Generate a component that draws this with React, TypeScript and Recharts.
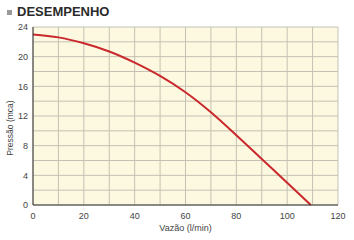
import { LineChart, Line, XAxis, YAxis, CartesianGrid } from "recharts";

const flow = [0, 10, 20, 30, 40, 50, 60, 70, 80, 90, 100, 109.3];
const pressure = [23, 22.6, 21.8, 20.7, 19.2, 17.4, 15.2, 12.5, 9.4, 6.2, 3.0, 0];
const xTicks = [0, 10, 20, 30, 40, 50, 60, 70, 80, 90, 100, 110, 120];
const yTicks = [0, 2, 4, 6, 8, 10, 12, 14, 16, 18, 20, 22, 24];

const data = flow.map((f, i) => ({ flow: f, pressure: pressure[i] }));

const font = "'Liberation Sans', Arial, sans-serif";

export default function App() {
  return (
    <div style={{ position: "absolute", left: 0, top: 0, width: 354, height: 240, background: "#fff", fontFamily: font }}>
      <div style={{ position: "absolute", left: 7, top: 10, width: 5, height: 5, background: "#9a9a9a" }} />
      <div style={{ position: "absolute", left: 17, top: 4, fontSize: 13, fontWeight: 700, color: "#2b2b2b", lineHeight: "16px" }}>
        DESEMPENHO
      </div>
      <div
        style={{
          position: "absolute",
          left: 10,
          top: 128,
          transform: "translate(-50%, -50%) rotate(-90deg)",
          fontSize: 8.5,
          color: "#444",
          whiteSpace: "nowrap",
        }}
      >
        Pressão (mca)
      </div>
      <LineChart width={354} height={240} data={data} margin={{ top: 27, right: 16, bottom: 15, left: 8 }}>
        <CartesianGrid stroke="#c4c1b4" strokeWidth={1} fill="#fdf9e0" />
        <XAxis
          dataKey="flow"
          type="number"
          domain={[0, 120]}
          ticks={xTicks}
          tickFormatter={(v: number) => (v % 20 === 0 ? String(v) : "")}
          tickLine={false}
          axisLine={{ stroke: "#333", strokeWidth: 1 }}
          tick={{ fontSize: 9, fill: "#444", fontFamily: font }}
          height={20}
          interval={0}
          label={{ value: "Vazão (l/min)", position: "bottom", offset: 0, fontSize: 9, fill: "#444", fontFamily: font }}
        />
        <YAxis
          type="number"
          domain={[0, 24]}
          ticks={yTicks}
          tickFormatter={(v: number) => (v % 4 === 0 ? String(v) : "")}
          tickLine={false}
          tickSize={3}
          tickMargin={2}
          interval={0}
          axisLine={{ stroke: "#333", strokeWidth: 1 }}
          tick={{ fontSize: 9, fill: "#444", fontFamily: font }}
          width={25}
        />
        <Line
          dataKey="pressure"
          type="monotone"
          stroke="#c9282c"
          strokeWidth={2}
          dot={false}
          isAnimationActive={false}
        />
      </LineChart>
    </div>
  );
}
